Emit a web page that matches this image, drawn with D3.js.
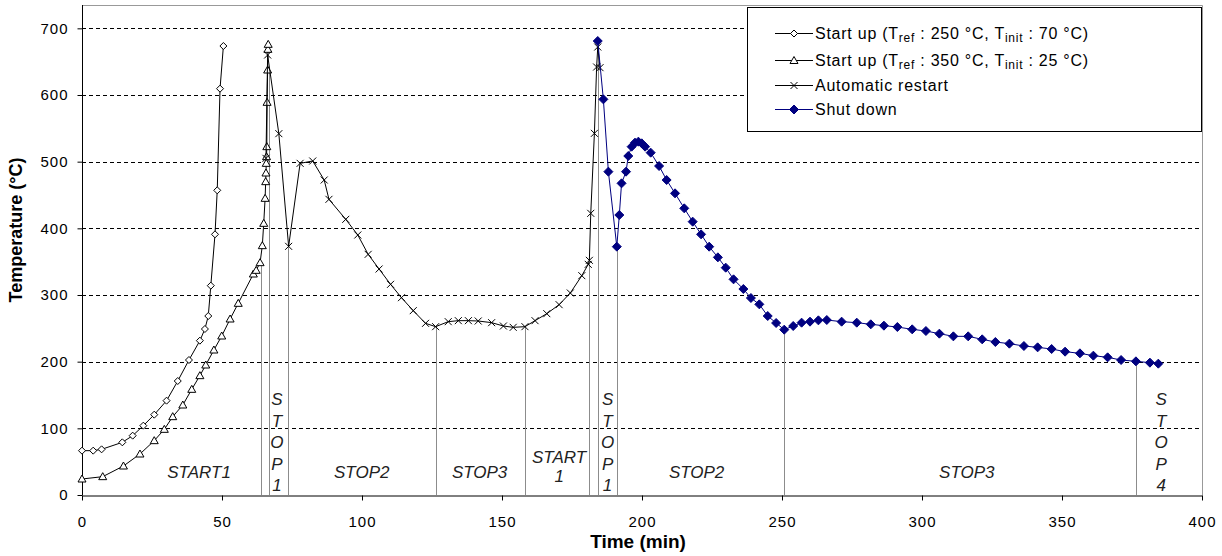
<!DOCTYPE html>
<html>
<head>
<meta charset="utf-8">
<script src="https://cdn.jsdelivr.net/npm/d3@7/dist/d3.min.js"></script>
<style>
body{margin:0;background:#fff;}
text{font-family:Arial,"Liberation Sans",sans-serif;}
</style>
</head>
<body>
<svg width="1222" height="556"></svg>
<script>
// [time (min), temperature (°C)]
var startup250=[[0,66.5],[4,66.5],[7,68.5],[14.4,79],[18.1,89],[21.9,104],[25.8,120.5],[30.2,141.5],[34.2,171],[38.2,202.5],[42.1,231.5],[43.9,249],[45.1,268.5],[46,314],[47.5,391],[48.3,457],[49.3,609.5],[50.5,673.5]];
var startup350=[[0,24],[7.4,27.5],[14.8,43.5],[20.7,61.5],[25.8,81.5],[29.4,98.5],[32.4,117.5],[36,135],[39.2,158.5],[42.1,179],[44.2,195],[47.1,217.5],[49.9,238.5],[52.9,264],[55.8,287.5],[61.2,331.5],[62.2,337],[63.6,348.5],[64.4,374],[64.9,407.5],[65.4,445],[65.6,470],[65.7,483],[65.8,497.5],[65.9,507.5],[66,522.5],[66.1,589],[66.3,637.5],[66.4,668.5],[66.5,676]];
var autoRestart=[[65.7,505],[66.3,660],[70.3,542],[73.8,373],[77.9,497.5],[82.4,501],[86.5,472.5],[88.2,443.5],[94.2,413.5],[98.5,390],[102.2,361],[106.1,339],[110.2,316],[114.1,296],[118.3,276.5],[122.7,257.5],[126.3,252.5],[130.8,260],[134.4,261.5],[138,261.5],[141.5,261],[146.3,258.5],[150.5,253.5],[154,251.5],[158.2,252.5],[161.8,261.5],[166,272],[170.4,285.5],[174.4,303],[178.5,329],[180.8,346],[181.2,352],[181.7,422.5],[183,542.5],[183.8,642],[184.2,672],[185,641]];
var shutDown=[[184.2,681],[186.2,593.5],[188,485],[191,372.5],[191.9,420],[192.7,467.5],[194.3,485],[195.1,508.5],[196.3,522.5],[197.5,528.5],[198.7,530],[199.9,527.5],[201.1,522.5],[203.1,513.5],[206.1,493.5],[208.8,472.5],[211.8,452.5],[215.1,430],[218.1,410],[221.1,391],[224,372.5],[227.1,356.5],[229.9,341],[232.7,323.5],[236.2,309],[238.9,295.5],[241.9,286],[244.9,268.5],[247.9,258],[250.8,248],[254,253.5],[257,258.5],[260,260],[263,262],[266,262.5],[271.3,260],[276.7,258.5],[281.7,256],[286.4,254],[291.2,252],[296.5,248.5],[301.4,246],[306.2,242],[311.2,238],[316.5,238],[321.5,233.5],[326.2,229.5],[331.2,227],[336.4,223.5],[341.3,221.5],[346.3,219],[351.1,215],[356.4,212.5],[361.2,209],[366.3,206.5],[371.1,202.5],[376.4,200.5],[381.4,198.5],[384.4,197]];

// phase boundaries (drop lines)
var dropTime=[63.8,66.8,73.5,126.3,158.2,181.2,184.2,191,250.8,376.4];
var dropTemp=[348,637,372.5,252.5,252.5,352,681,372.5,248,200.5];

var phaseLabels=["START1","STOP1","STOP2","STOP3","START 1","STOP1","STOP2","STOP3","STOP4"];
var phaseTime=[41.8,69.6,99.9,142,170.4,187.7,219.5,316,385.4];
var phaseKind=["h","v","h","h","2","v","h","h","v"];

var xTicks=[0,50,100,150,200,250,300,350,400];
var yTicks=[0,100,200,300,400,500,600,700];

var svg=d3.select("svg");
var x=d3.scaleLinear().domain([0,400]).range([82,1202]);
var y=d3.scaleLinear().domain([0,735]).range([495,5]);

svg.append("rect").attr("width",1222).attr("height",556).attr("fill","#fff");

// grid
svg.selectAll(".grid").data(yTicks.slice(1)).enter().append("line")
   .attr("x1",x(0)).attr("x2",x(400)-3)
   .attr("y1",d=>Math.round(y(d))+0.5).attr("y2",d=>Math.round(y(d))+0.5)
   .attr("stroke","#000").attr("stroke-dasharray","4,3");

// frame top/right
svg.append("path")
   .attr("d","M"+x(0)+","+(y(735)+0.5)+"H"+(x(400)+0.5)+"V"+y(0))
   .attr("fill","none").attr("stroke","#999");

// drop lines
svg.selectAll(".drop").data(dropTime).enter().append("line")
   .attr("x1",d=>Math.round(x(d))+0.5).attr("x2",d=>Math.round(x(d))+0.5)
   .attr("y1",y(0)).attr("y2",(d,i)=>y(dropTemp[i]))
   .attr("stroke","#8c8c8c").attr("stroke-width",1);

// axes
var yAxis=svg.append("g").attr("transform","translate("+(x(0)+0.5)+",0)")
   .call(d3.axisLeft(y).tickValues(yTicks).tickSize(5).tickSizeOuter(0).tickPadding(9));
var xAxis=svg.append("g").attr("transform","translate(0,"+(y(0)+0.5)+")")
   .call(d3.axisBottom(x).tickValues(xTicks).tickSize(5).tickSizeOuter(0).tickPadding(16));
svg.selectAll(".tick text").attr("font-size",15).attr("font-family","Arial").attr("fill","#000").style("letter-spacing","1px");
svg.selectAll(".domain,.tick line").attr("stroke","#000");
yAxis.select(".domain").attr("d","M0,"+y(735)+"V"+y(0));

svg.append("text").text("Temperature (°C)")
   .attr("transform","translate(22,230) rotate(-90)")
   .attr("text-anchor","middle").attr("font-weight","bold").attr("font-size",18);
svg.append("text").text("Time (min)")
   .attr("x",638).attr("y",548)
   .attr("text-anchor","middle").attr("font-weight","bold").attr("font-size",19);

// phase labels
phaseLabels.forEach(function(lbl,i){
  var t=svg.append("text").attr("text-anchor","middle")
     .attr("font-style","italic").attr("font-size",17).attr("fill","#222");
  var cx=x(phaseTime[i]);
  if(phaseKind[i]=="h"){
    t.attr("x",cx).attr("y",y(0)-17).text(lbl);
  } else if(phaseKind[i]=="2"){
    var parts=lbl.split(" ");
    t.selectAll("tspan").data(parts).enter().append("tspan")
     .attr("x",cx).attr("y",(d,j)=>y(0)-32+j*19).text(d=>d);
  } else {
    var ch=lbl.split("");
    t.selectAll("tspan").data(ch).enter().append("tspan")
     .attr("x",cx).attr("y",(d,j)=>y(0)-90+j*21.5).text(d=>d);
  }
});

var line=d3.line().x(d=>x(d[0])).y(d=>y(d[1]));
function diamond(r){return "M0,"+(-r)+"L"+r+",0L0,"+r+"L"+(-r)+",0Z";}
function triangle(r){return "M0,"+(-r)+"L"+r+","+(r*0.75)+"L"+(-r)+","+(r*0.75)+"Z";}
function cross(r){return "M"+(-r)+","+(-r)+"L"+r+","+r+"M"+(-r)+","+r+"L"+r+","+(-r);}

var series=[
  {name:"s250",data:startup250,color:"#000",marker:diamond(3.5),fill:"#fff"},
  {name:"s350",data:startup350,color:"#000",marker:triangle(4),fill:"#fff"},
  {name:"auto",data:autoRestart,color:"#000",marker:cross(3.5),fill:"none"},
  {name:"shut",data:shutDown,color:"#000080",marker:diamond(4.5),fill:"#000080"}
];

series.forEach(function(s){
  svg.append("path").datum(s.data).attr("d",line)
     .attr("fill","none").attr("stroke",s.color).attr("stroke-width",1);
  svg.selectAll(".m"+s.name).data(s.data).enter().append("path")
     .attr("class","m"+s.name)
     .attr("transform",d=>"translate("+x(d[0])+","+y(d[1])+")")
     .attr("d",s.marker)
     .attr("fill",s.fill).attr("stroke",s.color).attr("stroke-width",1);
});

// legend
var lg=svg.append("g");
lg.append("rect").attr("x",747.5).attr("y",7.5).attr("width",454).attr("height",124)
  .attr("fill","#fff").attr("stroke","#000");
var legRows=[33,60,85,109];
var legTxt=[
  [["Start up (T",0],["ref",1],[" : 250 °C, T",0],["init",1],[" : 70 °C)",0]],
  [["Start up (T",0],["ref",1],[" : 350 °C, T",0],["init",1],[" : 25 °C)",0]],
  [["Automatic restart",0]],
  [["Shut down",0]]
];
series.forEach(function(s,i){
  var ly=legRows[i];
  lg.append("line").attr("x1",775).attr("x2",813).attr("y1",ly+0.5).attr("y2",ly+0.5)
    .attr("stroke",s.color);
  lg.append("path").attr("transform","translate(794,"+(ly+0.5)+")").attr("d",s.marker)
    .attr("fill",s.fill).attr("stroke",s.color);
  var t=lg.append("text").attr("x",815).attr("y",ly+5.5).attr("font-size",16)
    .style("letter-spacing","0.75px");
  var prev=0;
  legTxt[i].forEach(function(p){
    var sub=p[1];
    t.append("tspan").text(p[0])
     .attr("font-size",sub?12:16)
     .attr("dy",sub?3:(prev?-3:0));
    prev=sub;
  });
});
</script>
</body>
</html>
